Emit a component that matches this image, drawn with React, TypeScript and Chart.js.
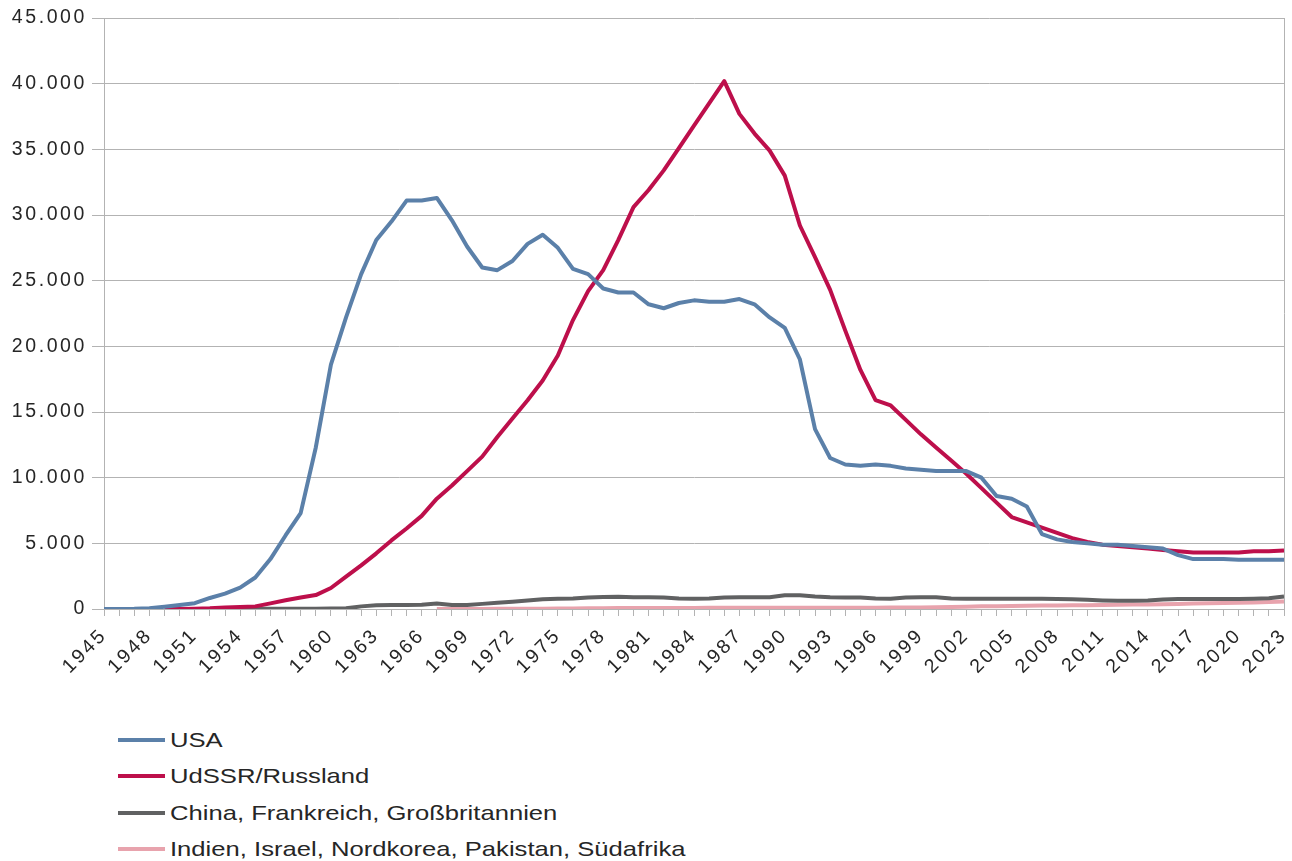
import React, { useEffect, useRef } from "react";
import { Chart, registerables } from "chart.js";

Chart.register(...registerables);

const years: string[] = [
  "1945", "1946", "1947", "1948", "1949", "1950", "1951", "1952", "1953", "1954",
  "1955", "1956", "1957", "1958", "1959", "1960", "1961", "1962", "1963", "1964",
  "1965", "1966", "1967", "1968", "1969", "1970", "1971", "1972", "1973", "1974",
  "1975", "1976", "1977", "1978", "1979", "1980", "1981", "1982", "1983", "1984",
  "1985", "1986", "1987", "1988", "1989", "1990", "1991", "1992", "1993", "1994",
  "1995", "1996", "1997", "1998", "1999", "2000", "2001", "2002", "2003", "2004",
  "2005", "2006", "2007", "2008", "2009", "2010", "2011", "2012", "2013", "2014",
  "2015", "2016", "2017", "2018", "2019", "2020", "2021", "2022", "2023",
];

// 1945–2023
const usa: (number | null)[] = [
  2, 9, 13, 50, 170, 300, 440, 840, 1170, 1630,
  2400, 3800, 5600, 7300, 12300, 18600, 22200, 25500, 28100, 29500,
  31100, 31100, 31300, 29600, 27600, 26000, 25800, 26500, 27800, 28500,
  27500, 25900, 25500, 24400, 24100, 24100, 23200, 22900, 23300, 23500,
  23400, 23400, 23600, 23200, 22200, 21400, 19000, 13700, 11500, 11000,
  10900, 11000, 10900, 10700, 10600, 10500, 10500, 10500, 10000, 8600,
  8400, 7800, 5700, 5300, 5100, 5000, 4900, 4900, 4800, 4700,
  4600, 4100, 3800, 3800, 3800, 3750, 3750, 3750, 3750,
];

// 1945–2023 (starts 1949)
const russia: (number | null)[] = [
  null, null, null, null, 1, 5, 25, 50, 120, 150,
  200, 430, 660, 870, 1060, 1600, 2470, 3320, 4240, 5220,
  6130, 7090, 8400, 9400, 10500, 11600, 13100, 14500, 15900, 17400,
  19300, 22000, 24200, 25800, 28100, 30600, 31900, 33400, 35100, 36800,
  38500, 40200, 37700, 36200, 34900, 33000, 29200, 26800, 24300, 21200,
  18200, 15900, 15500, 14400, 13300, 12300, 11300, 10300, 9200, 8100,
  7000, 6600, 6200, 5800, 5400, 5100, 4900, 4800, 4700, 4600,
  4500, 4400, 4300, 4300, 4300, 4300, 4400, 4400, 4450,
];

// 1945–2023 (starts 1953)
const chinaFranceUk: (number | null)[] = [
  null, null, null, null, null, null, null, null, 1, 5,
  10, 15, 20, 22, 25, 30, 50, 200, 280, 310,
  310, 320, 420, 300, 310, 390, 470, 560, 650, 750,
  780, 800, 880, 920, 930, 900, 900, 880, 800, 780,
  800, 880, 900, 900, 900, 1050, 1050, 950, 900, 880,
  880, 800, 780, 880, 900, 900, 800, 780, 780, 780,
  780, 780, 780, 760, 740, 700, 650, 620, 620, 640,
  720, 760, 760, 760, 760, 760, 780, 820, 950,
];

// 1945–2023 (starts 1967)
const otherStates: (number | null)[] = [
  null, null, null, null, null, null, null, null, null, null,
  null, null, null, null, null, null, null, null, null, null,
  null, null, 2, 4, 6, 8, 11, 15, 19, 26,
  30, 35, 60, 65, 70, 75, 78, 80, 82, 84,
  86, 88, 90, 90, 90, 90, 90, 90, 95, 100,
  100, 100, 105, 110, 120, 140, 160, 180, 200, 210,
  230, 250, 260, 270, 280, 290, 310, 330, 340, 350,
  370, 390, 410, 430, 450, 470, 500, 530, 580,
];

const seriesNames = [
  "USA",
  "UdSSR/Russland",
  "China, Frankreich, Großbritannien",
  "Indien, Israel, Nordkorea, Pakistan, Südafrika",
];
const seriesColors = ["#5b80a9", "#bd0f4b", "#606162", "#e8a3ad"];
const seriesData = [usa, russia, chinaFranceUk, otherStates];

const yMax = 45000;
const yStep = 5000;
const tickEvery = 3;

const FONT = "'Liberation Sans', Arial, sans-serif";
const TEXT_COLOR = "#262626";

function formatDe(v: number): string {
  return String(Math.round(v)).replace(/\B(?=(\d{3})+(?!\d))/g, ".");
}

const spacing = {
  id: "letterSpacing",
  beforeLayout(chart: any) {
    chart.ctx.letterSpacing = "2.6px";
  },
  beforeDraw(chart: any) {
    chart.ctx.letterSpacing = "2.6px";
  },
};

const frameRight = {
  id: "frameRight",
  afterDraw(chart: any) {
    const { ctx, chartArea } = chart;
    ctx.save();
    ctx.strokeStyle = "#b3b3b3";
    ctx.lineWidth = 1;
    ctx.beginPath();
    ctx.moveTo(Math.round(chartArea.right) + 0.5, chartArea.top);
    ctx.lineTo(Math.round(chartArea.right) + 0.5, chartArea.bottom);
    ctx.stroke();
    ctx.restore();
  },
};

export default function App() {
  const ref = useRef<HTMLCanvasElement | null>(null);

  useEffect(() => {
    if (!ref.current) return;
    const chart = new Chart(ref.current, {
      type: "line",
      data: {
        labels: years,
        datasets: seriesNames.map((name, i) => ({
          label: name,
          data: seriesData[i],
          borderColor: seriesColors[i],
          backgroundColor: seriesColors[i],
          borderWidth: 4,
          pointRadius: 0,
          tension: 0,
          spanGaps: false,
          borderJoinStyle: "round" as const,
          order: i === 3 ? 4 : i,
        })),
      },
      options: {
        animation: false,
        responsive: false,
        layout: { padding: { top: 18, right: 8, left: 0, bottom: 0 } },
        plugins: {
          legend: { display: false },
          tooltip: { enabled: false },
        },
        scales: {
          x: {
            type: "category",
            offset: false,
            grid: {
              drawOnChartArea: false,
              drawTicks: true,
              tickLength: 7,
              color: "#b3b3b3",
            },
            border: { color: "#b3b3b3" },
            ticks: {
              autoSkip: false,
              maxRotation: 45,
              minRotation: 45,
              padding: 8,
              color: TEXT_COLOR,
              font: { family: FONT, size: 19.5 },
              callback: (_v: any, idx: number) =>
                idx % tickEvery === 0 ? years[idx] : "",
            },
            afterFit: (scale: any) => {
              scale.height = 111;
              scale.paddingRight = 0;
            },
          },
          y: {
            min: 0,
            max: yMax,
            grid: { color: "#b3b3b3", tickLength: 12, drawTicks: true },
            border: { color: "#b3b3b3" },
            ticks: {
              stepSize: yStep,
              padding: 5,
              color: TEXT_COLOR,
              font: { family: FONT, size: 19.5 },
              callback: (v: any) => formatDe(Number(v)),
            },
            afterFit: (scale: any) => {
              scale.width = 104;
            },
          },
        },
      },
      plugins: [spacing, frameRight],
    });
    return () => chart.destroy();
  }, []);

  return (
    <div
      style={{
        position: "absolute",
        left: 0,
        top: 0,
        width: 1292,
        height: 861,
        background: "#ffffff",
        overflow: "hidden",
      }}
    >
      <canvas ref={ref} width={1292} height={720} style={{ display: "block" }} />
      <div
        style={{
          position: "absolute",
          left: 118,
          top: 722,
          fontFamily: FONT,
          fontSize: 21,
          color: TEXT_COLOR,
        }}
      >
        {seriesNames.map((name, i) => (
          <div
            key={name}
            style={{ display: "flex", alignItems: "center", height: 36.3, whiteSpace: "nowrap" }}
          >
            <span
              style={{
                display: "inline-block",
                width: 47,
                height: 4,
                background: seriesColors[i],
                marginRight: 5,
              }}
            />
            <span
              style={{
                display: "inline-block",
                transform: "scaleX(1.22)",
                transformOrigin: "left center",
              }}
            >
              {name}
            </span>
          </div>
        ))}
      </div>
    </div>
  );
}
